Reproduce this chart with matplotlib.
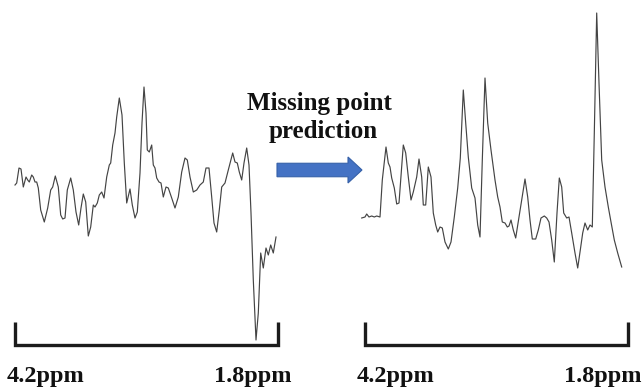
import matplotlib.pyplot as plt
from matplotlib.patches import FancyArrow

# spectrum before prediction (sample position, intensity)
left_pos = [1, 2.7, 5, 7, 9.3, 12, 13.7, 15.3, 17.7, 19.3, 21, 22.7, 24.3, 26.7, 30.3, 33.7,
            36.7, 38.7, 41.3, 44.3, 46.7, 48.7, 51, 53.3, 56.7, 59.3, 62, 64.7, 67, 69.3,
            71.7, 74.3, 76.7, 79.3, 81, 83.3, 85.3, 87.7, 90, 92.7, 95.3, 96.7, 98.7, 101,
            102.7, 105.3, 108, 110.3, 112.7, 116, 118.3, 121, 123.3, 126, 128, 130, 132,
            133.3, 135.3, 137.7, 139.3, 141, 142.7, 145, 147, 149.3, 152, 154.3, 157.7, 161,
            164.3, 167.7, 171, 173.3, 176, 179.3, 182.7, 186, 189.3, 192, 195, 197.7, 200,
            202.7, 205.3, 207.7, 211, 214.3, 218.7, 221, 223.3, 225.3, 227.7, 230, 232.7,
            235, 237, 239.3, 242, 244.3, 246.7, 249.3, 252, 254.3, 256.7, 259.3, 262]
left_int = [162, 164, 179, 178, 160, 170, 167, 165, 172, 170, 165, 165, 159, 137, 125, 139,
            157, 160, 171, 160, 132, 128, 129, 157, 169, 157, 135, 122, 139, 153,
            145, 111, 120, 142, 140, 144, 152, 155, 149, 170, 182, 184, 202, 214,
            230, 249, 232, 184, 144, 158, 142, 129, 135, 174, 224, 260, 234,
            197, 195, 202, 182, 179, 169, 165, 164, 150, 160, 159, 149, 139,
            150, 175, 189, 187, 170, 155, 157, 162, 165, 179, 179, 150, 124,
            115, 137, 160, 164, 177, 194, 185, 184, 175, 167, 184, 199,
            182, 134, 67, 7, 34, 94, 79, 99, 92, 102, 94, 110]

# spectrum after missing point prediction
right_pos = [-2.3, 1, 2.7, 5, 7.7, 10.3, 12.7, 16, 18.3, 22, 24.3, 26, 27.7, 30.3, 32.7, 35,
             39.3, 41.7, 44.3, 47, 49.3, 52.7, 55, 57.7, 59.3, 61.7, 64.3, 67, 69.3, 71.7,
             73.7, 76, 78.3, 81, 84.3, 87, 90.3, 93.7, 96.3, 99.3, 101.7, 104.3, 107.7, 111,
             113.7, 116, 118.3, 121, 123.7, 127, 131, 133.7, 136, 138.3, 141, 143.3, 145,
             147, 149.3, 151.7, 155, 157.7, 161, 163.7, 166, 168.3, 171.7, 174.3, 177,
             180.3, 182.7, 185, 187.7, 190.3, 193, 195.3, 197.7, 199.7, 202.7, 205, 207.7,
             211, 213.7, 216.3, 218.7, 221, 223.7, 226, 228.3, 230.3, 232.7, 235, 237.7,
             241, 244.3, 247, 250.3, 253.7, 257.7]
right_int = [129, 130, 133, 130, 131, 130, 131, 130, 167, 200, 184, 180, 169, 159, 143, 144,
             202, 194, 170, 147, 155, 170, 188, 170, 142, 142, 180, 170, 134, 122,
             115, 120, 119, 105, 98, 105, 130, 159, 189, 257, 224, 190, 159, 149,
             122, 110, 187, 269, 224, 197, 167, 150, 140, 125, 124, 120, 121,
             127, 117, 109, 130, 147, 168, 150, 127, 108, 108, 117, 129,
             131, 129, 125, 107, 85, 134, 169, 160, 134, 129, 130, 114,
             94, 79, 97, 114, 124, 117, 122, 120, 214, 334, 264, 187,
             160, 140, 125, 107, 94, 80]

tick_labels = ['4.2ppm', '1.8ppm']
title_lines = ['Missing point', 'prediction']

W, H = 644, 390
fig = plt.figure(figsize=(W / 100, H / 100), dpi=100)

line_col = '#444444'
bracket_col = '#1c1c1c'
font = dict(family='Liberation Serif', weight='bold', color='#111111')

# two spectra panels, each 263 px wide, zero intensity at pixel row 347
for x0, pos, inten in [(14, left_pos, left_int), (364, right_pos, right_int)]:
    ax = fig.add_axes([x0 / W, 1 - 347 / H, 263 / W, 347 / H])
    ax.plot(pos, inten, color=line_col, lw=0.85, solid_joinstyle='round', clip_on=False)
    # bracket under the spectrum
    ax.plot([0.7, 0.7, 263.5, 263.5], [25, 2.5, 2.5, 25], color=bracket_col, lw=2.4,
            solid_joinstyle='miter', solid_capstyle='butt', clip_on=False)
    ax.set_xlim(0, 263)
    ax.set_ylim(0, 347)
    ax.axis('off')
    ax.text(-7, -35, tick_labels[0], ha='left', va='baseline', fontsize=17.5, **font)
    ax.text(278, -35, tick_labels[1], ha='right', va='baseline', fontsize=17.5, **font)

# overlay in pixel coordinates for the arrow and caption
ov = fig.add_axes([0, 0, 1, 1])
ov.set_xlim(0, W)
ov.set_ylim(H, 0)
ov.axis('off')
ov.text(319, 110, title_lines[0], ha='center', va='baseline', fontsize=18, **font)
ov.text(323, 138, title_lines[1], ha='center', va='baseline', fontsize=18, **font)
ov.add_patch(FancyArrow(277, 170, 85, 0, width=13.5, head_width=26, head_length=14,
                        length_includes_head=True, facecolor='#4472C4',
                        edgecolor='#3560A8', lw=0.8))

fig.savefig('out.png', dpi=100, facecolor='white')
